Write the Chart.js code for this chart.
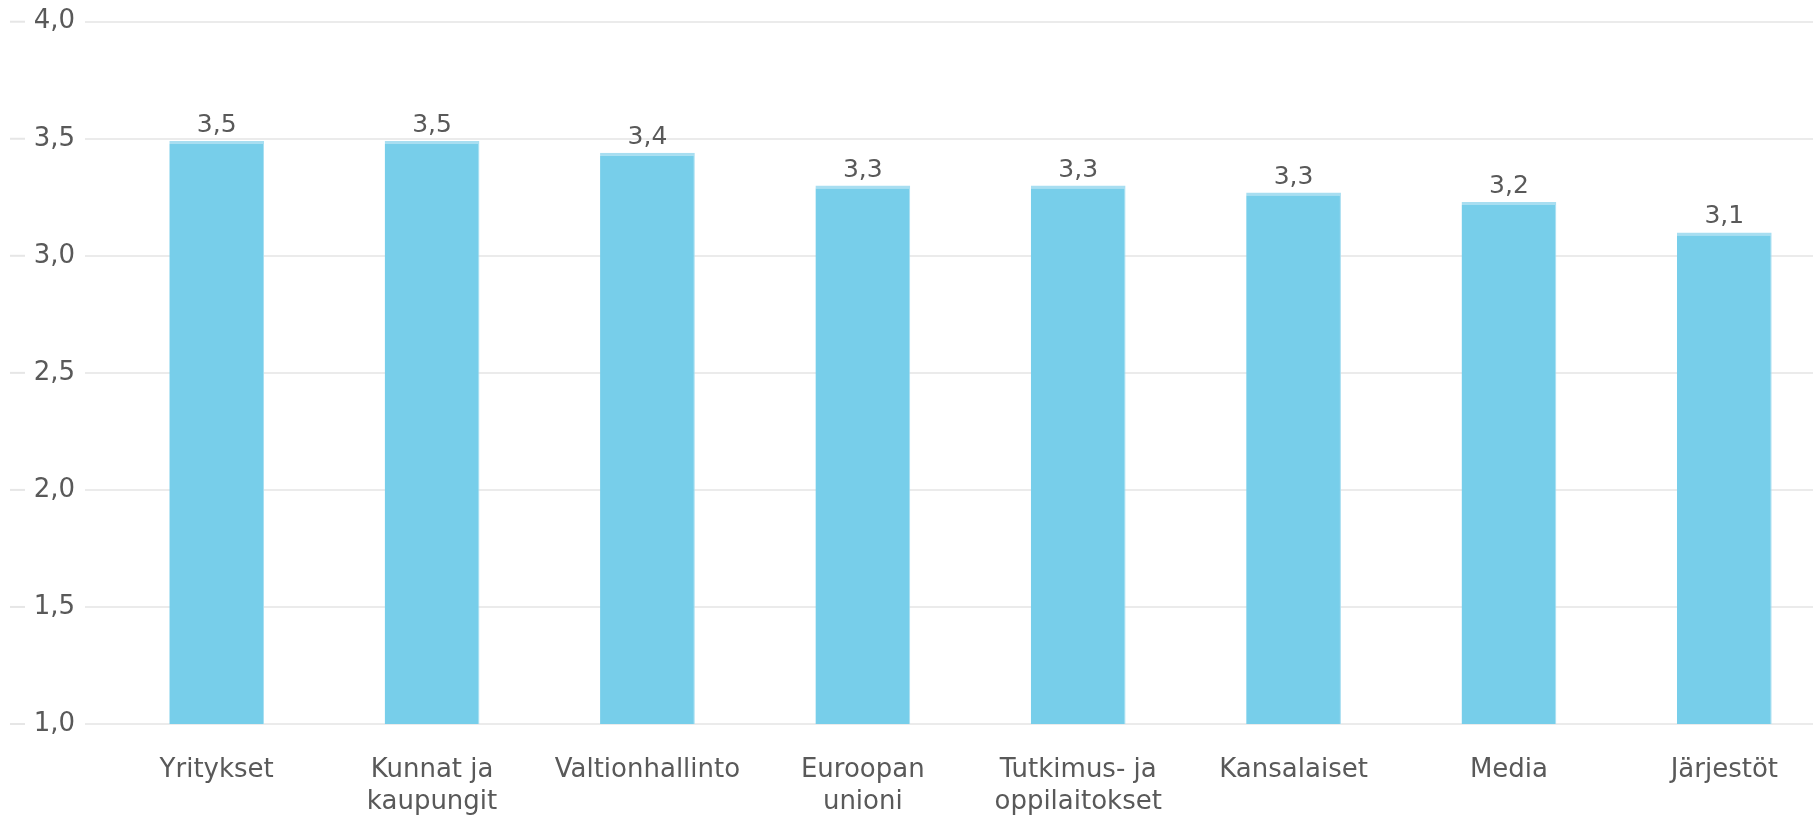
<!DOCTYPE html>
<html>
<head>
<meta charset="utf-8">
<script src="https://cdn.jsdelivr.net/npm/chart.js@4.4.0/dist/chart.umd.min.js"></script>
<style>
  html, body { margin: 0; padding: 0; background: #fff; overflow: hidden; }
  #wrap { position: relative; width: 1832px; height: 815px; }
</style>
</head>
<body>
<div id="wrap"><canvas id="chart1"></canvas></div>
<script>
// Chart data
const categories = ['Yritykset', ['Kunnat ja', 'kaupungit'], 'Valtionhallinto', ['Euroopan', 'unioni'],
    ['Tutkimus- ja', 'oppilaitokset'], 'Kansalaiset', 'Media', 'Järjestöt'];
const values = [3.49, 3.49, 3.44, 3.30, 3.30, 3.27, 3.23, 3.10];
const yTicks = [1.0, 1.5, 2.0, 2.5, 3.0, 3.5, 4.0];

const fmt = v => v.toFixed(1).replace('.', ',');
const FONT = '"DejaVu Sans", Verdana, sans-serif';

// value labels above the bars
const barLabels = {
    id: 'barLabels',
    afterDatasetsDraw(chart) {
        const ctx = chart.ctx;
        ctx.save();
        ctx.font = '25px ' + FONT;
        ctx.fillStyle = '#595959';
        ctx.textAlign = 'center';
        ctx.textBaseline = 'alphabetic';
        chart.getDatasetMeta(0).data.forEach((bar, i) => {
            ctx.fillText(fmt(values[i]), bar.x, bar.y - 9);
        });
        ctx.restore();
    }
};

// small dashes at the far left of each y tick
const leftDashes = {
    id: 'leftDashes',
    afterDraw(chart) {
        const ctx = chart.ctx;
        const y = chart.scales.y;
        ctx.save();
        ctx.strokeStyle = '#e6e6e6';
        ctx.lineWidth = 2;
        y.ticks.forEach((t, i) => {
            const py = y.getPixelForTick(i);
            ctx.beginPath();
            ctx.moveTo(10, py);
            ctx.lineTo(25, py);
            ctx.stroke();
        });
        ctx.restore();
    }
};

function initializeChart() {
    const ctx = document.getElementById('chart1').getContext('2d');
    new Chart(ctx, {
        type: 'bar',
        data: {
            labels: categories,
            datasets: [{
                data: values,
                backgroundColor: '#77ceea',
                borderColor: '#a8def1',
                borderWidth: { top: 3, right: 1, left: 0, bottom: 0 },
                borderSkipped: false,
                barPercentage: 0.44,
                categoryPercentage: 1
            }]
        },
        options: {
            responsive: true,
            maintainAspectRatio: false,
            animation: false,
            layout: { padding: { top: 0, right: 0, bottom: 0, left: 0 } },
            plugins: { legend: { display: false }, tooltip: { enabled: false } },
            scales: {
                x: {
                    afterFit: axis => { axis.height = 91; },
                    grid: { display: false, drawTicks: false },
                    border: { display: false },
                    ticks: {
                        color: '#595959',
                        font: { family: FONT, size: 26, lineHeight: 1.2 },
                        padding: 31,
                        maxRotation: 0,
                        autoSkip: false
                    }
                },
                y: {
                    min: 1,
                    max: 4,
                    afterBuildTicks: axis => { axis.ticks = yTicks.map(v => ({ value: v })); },
                    afterFit: axis => { axis.width = 109; },
                    grid: { color: '#ebebeb', lineWidth: 2, drawTicks: true, tickLength: 24 },
                    border: { display: false },
                    ticks: {
                        color: '#595959',
                        font: { family: FONT, size: 26, lineHeight: 0.9 },
                        padding: 10,
                        callback: v => fmt(v)
                    }
                }
            }
        },
        plugins: [barLabels, leftDashes]
    });
}

window.onload = initializeChart;
</script>
</body>
</html>
